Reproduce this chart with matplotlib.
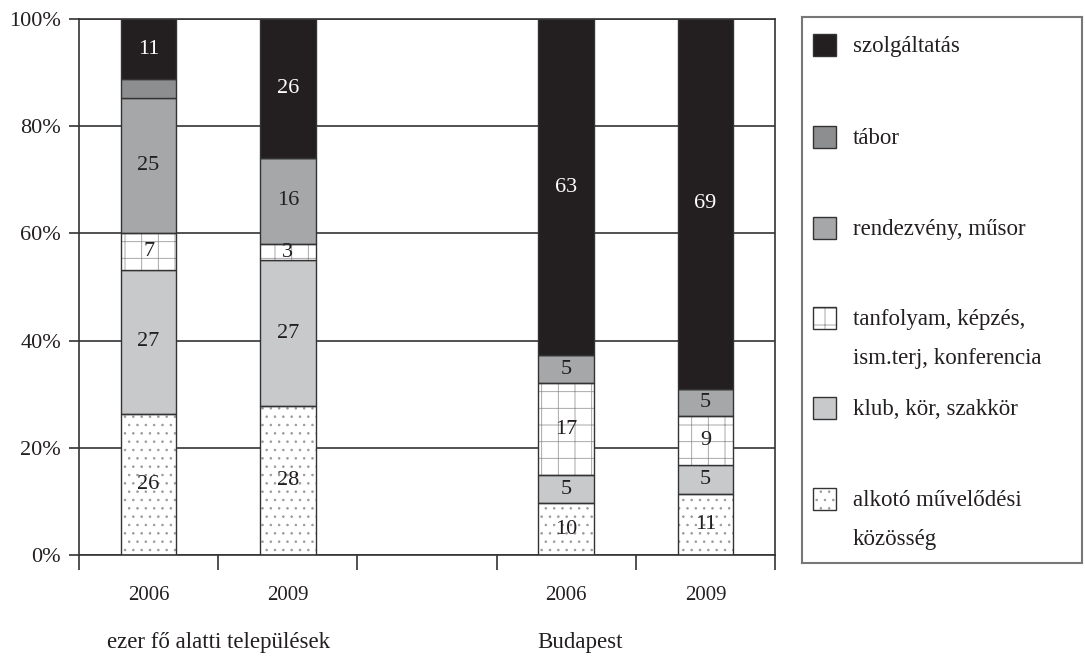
import matplotlib.pyplot as plt
from matplotlib.patches import Rectangle
import numpy as np

plt.rcParams['font.family'] = ['Liberation Serif', 'DejaVu Serif']
plt.rcParams['hatch.linewidth'] = 0.6

# data (shares in %), bars: 2006, 2009 small settlements, 2006, 2009 Budapest
positions = [0, 1, 3, 4]
year_labels = ['2006', '2009', '', '2006', '2009']
group_labels = ['ezer fő alatti települések', 'Budapest']

alkoto = [26.3, 27.8, 9.7, 11.4]
klub = [26.9, 27.2, 5.2, 5.4]
tanfolyam = [6.9, 3.0, 17.2, 9.1]
rendezveny = [25.2, 16.1, 5.2, 5.1]
tabor = [3.5, 0, 0, 0]
szolgaltatas = [11.2, 25.9, 62.7, 69.0]

series = [
    ('alkotó művelődési\nközösség', alkoto, 'white', '..'),
    ('klub, kör, szakkör', klub, '#c8c9cb', None),
    ('tanfolyam, képzés,\nism.terj, konferencia', tanfolyam, 'white', '+'),
    ('rendezvény, műsor', rendezveny, '#a6a7a9', None),
    ('tábor', tabor, '#8d8e90', None),
    ('szolgáltatás', szolgaltatas, '#231f20', None),
]

edge = '#333333'
ink = '#231f20'
fig = plt.figure(figsize=(10.85, 6.56), dpi=100)
ax = fig.add_axes([79 / 1085, 1 - 555 / 656, (775 - 79) / 1085, (555 - 19) / 656])

width = 0.4
bottom = np.zeros(len(positions))
for label, vals, color, hatch in series:
    vals = np.array(vals, dtype=float)
    if hatch:
        ax.bar(positions, vals, width, bottom=bottom, color='white',
               edgecolor='#9a9a9a', hatch=hatch, linewidth=0, zorder=2)
        ax.bar(positions, vals, width, bottom=bottom, fill=False,
               edgecolor=edge, linewidth=1, zorder=3)
    else:
        ax.bar(positions, vals, width, bottom=bottom, color=color,
               edgecolor=edge, linewidth=1, zorder=2)
    txtcolor = 'white' if color == ink else ink
    for x, b, v in zip(positions, bottom, vals):
        if v >= 2.5 and label != 'tábor':
            ax.text(x, b + v / 2, f'{v:.0f}', ha='center', va='center',
                    fontsize=16, color=txtcolor, zorder=4)
    bottom += vals

ax.set_xlim(-0.5, 4.5)
ax.set_ylim(0, 100)
ax.set_yticks(np.arange(0, 101, 20))
ax.set_yticklabels([f'{v}%' for v in range(0, 101, 20)], fontsize=16, color=ink)
ax.yaxis.grid(True, color=edge, linewidth=1.2, zorder=0)
ax.set_axisbelow(True)

ax.set_xticks(np.arange(-0.5, 4.6, 1))
ax.set_xticklabels([])
ax.set_xticks(np.arange(0, 5), minor=True)
ax.set_xticklabels(year_labels, minor=True, fontsize=15, color=ink)
ax.tick_params(axis='x', which='major', length=11, width=1.2, color=edge)
ax.tick_params(axis='x', which='minor', length=0, pad=22)
ax.tick_params(axis='y', length=7, width=1.2, color=edge, pad=6)
for s in ax.spines.values():
    s.set_color(edge)
    s.set_linewidth(1.2)

ax.text(0.5, -0.164, group_labels[0], transform=ax.get_xaxis_transform(),
        ha='center', va='center', fontsize=16.5, color=ink)
ax.text(3.1, -0.164, group_labels[1], transform=ax.get_xaxis_transform(),
        ha='center', va='center', fontsize=16.5, color=ink)

# legend panel
lx0, lx1, ly0, ly1 = 802, 1082, 17, 563
lax = fig.add_axes([lx0 / 1085, 1 - ly1 / 656, (lx1 - lx0) / 1085, (ly1 - ly0) / 656])
lax.set_xlim(lx0, lx1)
lax.set_ylim(ly1, ly0)
lax.set_xticks([])
lax.set_yticks([])
for s in lax.spines.values():
    s.set_color('#777777')
    s.set_linewidth(1.5)

legend_rows = [45, 137, 228, 318, 408, 499]
for (label, vals, color, hatch), yc in zip(series[::-1], legend_rows):
    if hatch:
        lax.add_patch(Rectangle((813, yc - 11), 23, 22, facecolor='white',
                                edgecolor='#9a9a9a', hatch=hatch, linewidth=0))
        lax.add_patch(Rectangle((813, yc - 11), 23, 22, fill=False,
                                edgecolor=edge, linewidth=1))
    else:
        lax.add_patch(Rectangle((813, yc - 11), 23, 22, facecolor=color,
                                edgecolor=edge, linewidth=1))
    lax.text(853, yc - 9, label, ha='left', va='top', fontsize=16.5,
             color=ink, linespacing=2.1)

fig.savefig('out.png', dpi=100)
